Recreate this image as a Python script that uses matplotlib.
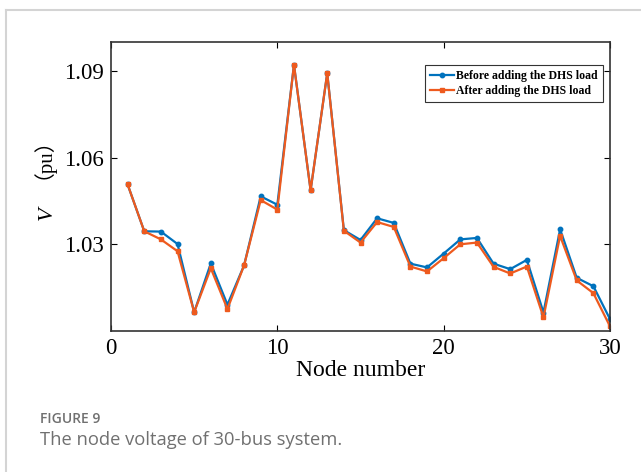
"""Node voltage of the 30-bus system before/after adding the DHS load."""
import numpy as np
import matplotlib
matplotlib.use("Agg")
import matplotlib.pyplot as plt
from matplotlib.lines import Line2D

nodes = np.arange(1, 31)
v_before = [1.0507, 1.0345, 1.0344, 1.0301, 1.0065, 1.0234, 1.0091, 1.0227, 1.0466, 1.0437,
            1.0921, 1.0487, 1.0892, 1.0349, 1.0315, 1.0390, 1.0374, 1.0233, 1.0220, 1.0268,
            1.0317, 1.0322, 1.0233, 1.0214, 1.0246, 1.0064, 1.0352, 1.0184, 1.0155, 1.0041]
v_after = [1.0507, 1.0345, 1.0317, 1.0276, 1.0065, 1.0217, 1.0076, 1.0227, 1.0453, 1.0420,
           1.0921, 1.0487, 1.0892, 1.0347, 1.0306, 1.0377, 1.0360, 1.0223, 1.0206, 1.0252,
           1.0300, 1.0306, 1.0222, 1.0199, 1.0223, 1.0047, 1.0329, 1.0175, 1.0131, 1.0016]
x_ticks = [0, 10, 20, 30]
y_ticks = [1.03, 1.06, 1.09]
labels = ["Before adding the DHS load", "After adding the DHS load"]

SERIF = "Liberation Serif"
BLUE = "#0072BD"
ORANGE = "#EE5A1E"

fig = plt.figure(figsize=(6.41, 4.72), dpi=100)

# card frame (light gray border top and left)
fig.add_artist(Line2D([6 / 641, 1], [1 - 10 / 472, 1 - 10 / 472], color="#d4d4d4", lw=1.5))
fig.add_artist(Line2D([6 / 641, 6 / 641], [0, 1 - 10 / 472], color="#d4d4d4", lw=1.5))

ax = fig.add_axes([111 / 641, 1 - 331 / 472, (610 - 111) / 641, (331 - 42) / 472])
ax.plot(nodes, v_before, "-o", color=BLUE, lw=1.6, ms=3.2, label=labels[0])
ax.plot(nodes, v_after, "-s", color=ORANGE, lw=1.6, ms=3.0, label=labels[1])

ax.set_xlim(0, 30)
ax.set_ylim(1.0, 1.10)
ax.set_xticks(x_ticks)
ax.set_yticks(y_ticks)
ax.set_xticklabels([str(t) for t in x_ticks], family=SERIF, fontsize=16.5)
ax.set_yticklabels([f"{t:.2f}" for t in y_ticks], family=SERIF, fontsize=16.5)
ax.tick_params(direction="in", top=True, right=True, length=4, width=0.8, pad=5)
for s in ax.spines.values():
    s.set_linewidth(1.2)
    s.set_color("#333333")

ax.set_xlabel("Node number", family=SERIF, fontsize=17, labelpad=1)
# y label: italic V followed by full-width parentheses
ax.text(-0.128, 0.385, "V", transform=ax.transAxes, rotation=90, fontsize=16,
        family=SERIF, style="italic", ha="center", va="bottom")
ax.text(-0.158, 0.525, "（pu）", transform=ax.transAxes, rotation=90, fontsize=15,
        family=[SERIF, "Noto Sans CJK SC"], ha="center", va="bottom")

leg = ax.legend(loc="upper right", bbox_to_anchor=(0.986, 0.922), borderaxespad=0,
                prop={"family": SERIF, "weight": "bold", "size": 8.5},
                fancybox=False, edgecolor="#333333", framealpha=1,
                handlelength=2.0, handletextpad=0.2, borderpad=0.45, labelspacing=0.25)
leg.get_frame().set_linewidth(0.8)

fig.text(40 / 641, 1 - 419 / 472, "FIGURE 9", family="Open Sans", weight="semibold",
         fontsize=10, color="#707070", va="center")
fig.text(40 / 641, 1 - 440 / 472, "The node voltage of 30-bus system.", family="Open Sans",
         fontsize=13.2, color="#707070", va="center")

fig.savefig("out.png", dpi=100)
